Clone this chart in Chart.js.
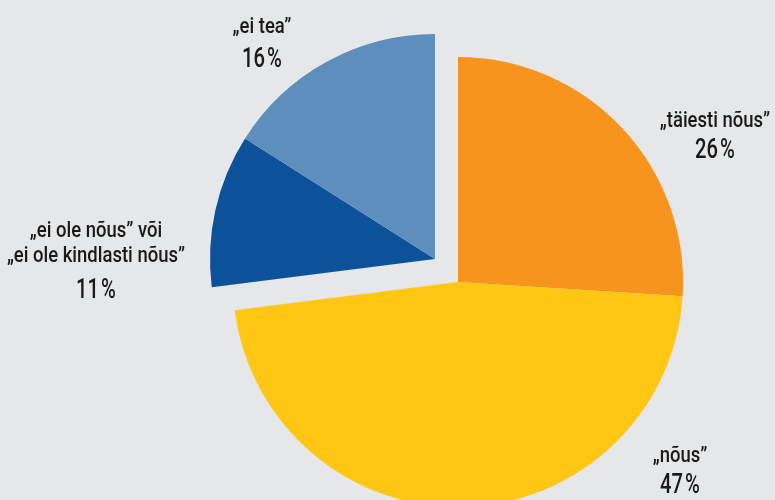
<!DOCTYPE html>
<html lang="et">
<head>
<meta charset="utf-8">
<title>Nõusolek</title>
<script src="https://cdn.jsdelivr.net/npm/chart.js@4.4.1/dist/chart.umd.min.js"></script>
<style>
  body { margin: 0; background: #e6e7e8; }
  #wrap { width: 775px; height: 500px; position: relative; overflow: hidden; }
</style>
</head>
<body>
<div id="wrap"><canvas id="pie"></canvas></div>
<script>
// answers, clockwise from 12 o'clock
const categories = ['„täiesti nõus”', '„nõus”', '„ei ole nõus” või\n„ei ole kindlasti nõus”', '„ei tea”'];
const shares = [26, 47, 11, 16];
const sliceColors = ['#f7941e', '#ffc613', '#0b529b', '#5e8fbc'];

// the two "no" / "don't know" slices are pulled out together
const pulled = [2, 3];
const pull = { x: -23, y: -23 };

// label spots relative to each slice's centre: dx, then baselines (last one = percent)
const labelSpots = [
  { dx: 257, dy: [-155, -124] },
  { dx: 222, dy: [180, 211] },
  { dx: -339, dy: [-22, 3, 39] },
  { dx: -173, dy: [-226, -192] }
];

const textFont = 'Roboto, "Noto Sans", sans-serif';

// squeezed text, the original uses a condensed face
function narrowText(ctx, text, x, y, squeeze) {
  ctx.save();
  ctx.translate(x, y);
  ctx.scale(squeeze, 1);
  ctx.fillText(text, 0, 0);
  ctx.restore();
}

const pullOut = {
  id: 'pullOut',
  afterDatasetsUpdate(chart) {
    const arcs = chart.getDatasetMeta(0).data;
    pulled.forEach(i => {
      arcs[i].x += pull.x;
      arcs[i].y += pull.y;
    });
  }
};

const sliceLabels = {
  id: 'sliceLabels',
  afterDraw(chart) {
    const ctx = chart.ctx;
    const arcs = chart.getDatasetMeta(0).data;
    ctx.save();
    ctx.fillStyle = '#1a1a1a';
    ctx.textAlign = 'center';
    ctx.textBaseline = 'alphabetic';
    arcs.forEach((arc, i) => {
      const spot = labelSpots[i];
      const x = arc.x + spot.dx;
      const lines = categories[i].split('\n');
      ctx.font = '500 22px ' + textFont;
      lines.forEach((line, k) => narrowText(ctx, line, x, arc.y + spot.dy[k], 0.84));
      ctx.font = '500 28px ' + textFont;
      narrowText(ctx, shares[i] + '\u200a%', x, arc.y + spot.dy[spot.dy.length - 1], 0.72);
    });
    ctx.restore();
  }
};

new Chart(document.getElementById('pie'), {
  type: 'pie',
  data: {
    labels: categories,
    datasets: [{
      data: shares,
      backgroundColor: sliceColors,
      borderWidth: 0
    }]
  },
  options: {
    responsive: true,
    maintainAspectRatio: false,
    animation: false,
    events: [],
    radius: 225,
    layout: { padding: { left: 141, top: 64, right: 0, bottom: 0 } },
    plugins: {
      legend: { display: false },
      tooltip: { enabled: false }
    }
  },
  plugins: [pullOut, sliceLabels]
});
</script>
</body>
</html>
